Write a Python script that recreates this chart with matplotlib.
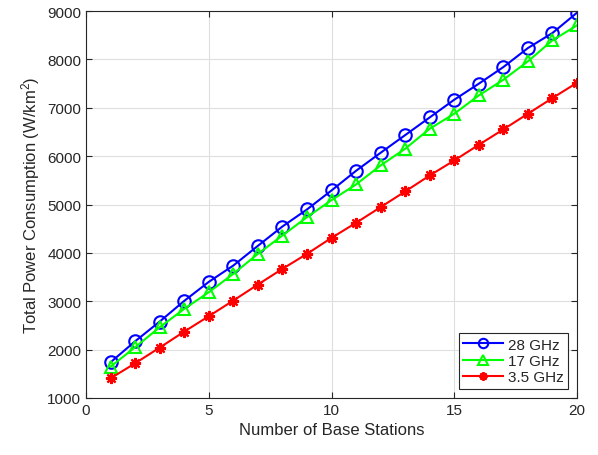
import matplotlib
matplotlib.use("Agg")
import matplotlib.pyplot as plt

plt.rcParams['font.family'] = ['Liberation Sans', 'DejaVu Sans']
plt.rcParams['mathtext.fontset'] = 'custom'
plt.rcParams['mathtext.rm'] = 'Liberation Sans'
plt.rcParams['mathtext.it'] = 'Liberation Sans:italic'

n_bs = list(range(1, 21))
p_28 = [1738, 2172, 2579, 3007, 3400, 3738, 4145, 4545, 4897, 5290,
        5697, 6069, 6434, 6800, 7166, 7497, 7841, 8234, 8545, 8965]
p_17 = [1648, 2048, 2462, 2841, 3186, 3566, 3979, 4359, 4738, 5090,
        5414, 5807, 6152, 6566, 6876, 7255, 7579, 7959, 8393, 8703]
p_35 = [1407, 1717, 2041, 2372, 2690, 3014, 3345, 3669, 3979, 4310,
        4621, 4945, 5269, 5600, 5910, 6234, 6552, 6876, 7200, 7517]
labels = ['28 GHz', '17 GHz', '3.5 GHz']

fig = plt.figure(figsize=(5.98, 4.56), dpi=100)
ax = fig.add_axes([86/598, 1 - 399/456, (577-86)/598, (399-12)/456])

dark = '#262626'
ax.plot(n_bs, p_28, '-o', color=(0, 0, 1), lw=1.5, ms=9, mfc='none', mew=1.5, label=labels[0])
ax.plot(n_bs, p_17, '-^', color=(0, 1, 0), lw=1.5, ms=9, mfc='none', mew=1.5, label=labels[1])
ax.plot(n_bs, p_35, '-', marker=(8, 2, 0), color=(1, 0, 0), lw=1.5, ms=8, mew=1.6, label=labels[2])

ax.set_xlim(0, 20)
ax.set_ylim(1000, 9000)
ax.set_xticks([0, 5, 10, 15, 20])
ax.set_yticks(range(1000, 9001, 1000))
ax.grid(True, color='#dedede', lw=0.8)
ax.set_axisbelow(True)
ax.tick_params(direction='in', length=4, colors=dark, labelsize=11, top=True, right=True,
               labeltop=False, labelright=False)
for s in ax.spines.values():
    s.set_color(dark)
    s.set_linewidth(0.8)

ax.set_xlabel('Number of Base Stations', fontsize=12, color=dark)
ax.set_ylabel('Total Power Consumption (W/km$^2$)', fontsize=12, color=dark)

leg = ax.legend(loc='lower right', fontsize=11, frameon=True, fancybox=False,
                edgecolor=dark, framealpha=1, borderaxespad=0.6, handlelength=2.6,
                borderpad=0.3, labelspacing=0.15, handletextpad=0.3, markerscale=0.75)
leg.get_frame().set_linewidth(0.8)
for t in leg.get_texts():
    t.set_color(dark)

fig.savefig('out.png', dpi=100)
